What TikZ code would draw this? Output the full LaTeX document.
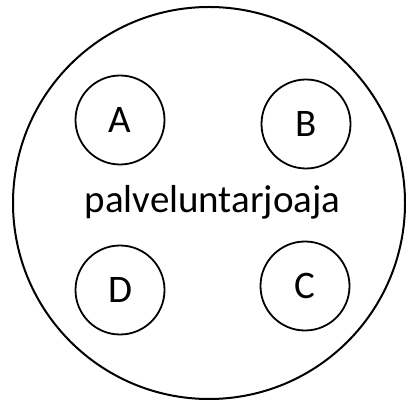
\documentclass[tikz,border=0pt]{standalone}
\usepackage{fontspec}
\setmainfont{Carlito}
\usepackage{tikz}
\usetikzlibrary{positioning}

\begin{document}
\begin{tikzpicture}[x=1pt, y=1pt,
  provider/.style={circle, draw, line width=1pt, minimum size=196pt, inner sep=0pt},
  member/.style={circle, draw, line width=0.9pt, minimum size=44.5pt, inner sep=0pt, font=\fontsize{19.5}{22}\selectfont}
]
  \useasboundingbox (0,0) rectangle (203,200.5);
  \node[provider] (prov) at (104.5,99) {};
  \node[anchor=base, font=\fontsize{19.5}{22}\selectfont] (name) at (106.3,94) {palveluntarjoaja};
  \node[member] (a) at (60,140.5) {A};
  \node[member] (b) at (153,138.5) {B};
  \node[member] (c) at (152.5,57.5) {C};
  \node[member] (d) at (60,55.5) {D};
\end{tikzpicture}
\end{document}
